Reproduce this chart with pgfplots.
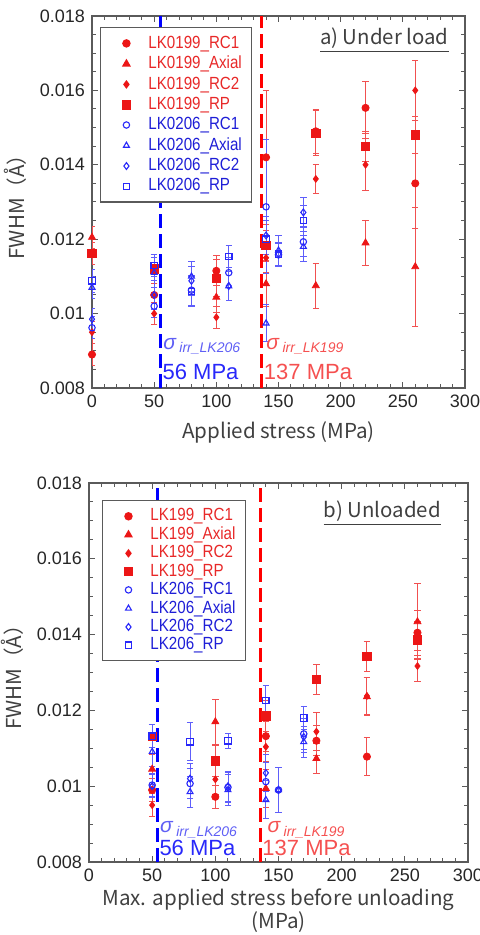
\documentclass[border=0pt]{standalone}
\usepackage{pgfplots}
\pgfplotsset{compat=1.18}
\usepackage{fontspec}
\setmainfont{Liberation Sans}
\newfontfamily\legfont{Liberation Sans}[FakeStretch=0.86]
\newfontfamily\jp{Noto Sans CJK JP}
\definecolor{lkred}{RGB}{236,22,22}
\definecolor{lkblue}{RGB}{40,40,250}
\definecolor{lkredt}{RGB}{232,40,40}
\definecolor{lkbluet}{RGB}{30,30,215}
\definecolor{sigblue}{RGB}{95,95,245}
\definecolor{sigred}{RGB}{245,80,80}
\definecolor{frame}{RGB}{90,90,90}
\pgfplotsset{
  fwhm/.style={
    scale only axis,
    xmin=0, xmax=300, ymin=0.008, ymax=0.018,
    xtick={0,50,...,300}, minor x tick num=4,
    ytick={0.008,0.010,0.012,0.014,0.016,0.018},
    yticklabels={0.008,0.01,0.012,0.014,0.016,0.018},
    minor y tick num=3,
    tick align=inside, major tick length=3pt, minor tick length=1.8pt,
    axis line style={frame, line width=0.6pt},
    every tick/.style={frame, line width=0.5pt},
    tick label style={font=\fontsize{9}{10}\selectfont, text=black!85},
    /pgf/number format/assume math mode=true,
    scaled y ticks=false,
    label style={font=\jp\fontsize{10.3}{12}\selectfont, text=black!75},
    ylabel={FWHM（Å）},
    legend cell align=left,
    legend style={draw=frame, line width=0.6pt, font=\legfont\fontsize{8.8}{10.2}\selectfont,
      inner xsep=3pt, inner ysep=2pt},
  },
  lim/.style={legend image code/.code={\path[draw=none,fill=none] (0pt,-1pt) (19pt,1pt);\draw[##1] plot[only marks] coordinates {(10pt,0pt)};}},
  r1/.style={only marks, lim, mark=*, mark size=1.8pt, color=lkred,
    error bars/y dir=both, error bars/y explicit,
    error bars/error bar style={lkred!75, line width=0.45pt},
    error bars/error mark options={rotate=90, mark size=1.6pt, lkred!75, line width=0.45pt}},
  r2/.style={r1, mark=triangle*, mark size=2pt},
  r3/.style={r1, mark=diamond*, mark size=1.7pt},
  r4/.style={r1, mark=square*, mark size=2.1pt},
  b1/.style={only marks, lim, mark=o, mark size=1.6pt, color=lkblue, mark options={draw=lkblue, line width=0.55pt},
    error bars/y dir=both, error bars/y explicit,
    error bars/error bar style={lkblue!75, line width=0.45pt},
    error bars/error mark options={rotate=90, mark size=1.6pt, lkblue!75, line width=0.45pt}},
  b2/.style={b1, mark=triangle, mark size=1.7pt},
  b3/.style={b1, mark=diamond, mark size=1.7pt},
  b4/.style={b1, mark=square, mark size=1.6pt, mark options={draw=lkblue, fill=none, line width=0.6pt}},
  vline/.style={line width=1.5pt, dash pattern=on 7pt off 3pt, forget plot},
}
\begin{document}
\begin{tikzpicture}
\path[use as bounding box] (0,0) rectangle (240pt,467.5pt);
% ---------------- a) Under load ----------------
\begin{axis}[fwhm, at={(46pt,273.5pt)}, anchor=south west,
  width=186.5pt, height=186pt,
  xlabel={Applied stress (MPa)},
  legend style={at={(0.021,0.97)}, anchor=north west, row sep=-1.5pt}]
\addplot[r1] table[row sep=\\, y error=e]{x y e\\ 0 0.0089 0.0003\\ 50 0.0105 0.0005\\ 100 0.01115 0.0004\\ 140 0.0142 0.0018\\ 180 0.0149 0.0006\\ 220 0.01553 0.0007\\ 260 0.0135 0.0012\\};
\addlegendentry{\textcolor{lkredt}{LK0199\_RC1}}
\addplot[r2] table[row sep=\\, y error=e]{x y e\\ 0 0.01205 0.0003\\ 50 0.0112 0.0004\\ 100 0.01044 0.0004\\ 140 0.0108 0.0006\\ 180 0.01075 0.0006\\ 220 0.0119 0.0006\\ 260 0.01126 0.0016\\};
\addlegendentry{\textcolor{lkredt}{LK0199\_Axial}}
\addplot[r3] table[row sep=\\, y error=e]{x y e\\ 0 0.0095 0.0003\\ 50 0.0100 0.0003\\ 100 0.0099 0.0003\\ 140 0.0115 0.0004\\ 180 0.01362 0.0004\\ 220 0.0140 0.0007\\ 260 0.0160 0.0008\\};
\addlegendentry{\textcolor{lkredt}{LK0199\_RC2}}
\addplot[r4] table[row sep=\\, y error=e]{x y e\\ 0 0.01162 0.0003\\ 50 0.0112 0.0004\\ 100 0.01095 0.0005\\ 140 0.01184 0.0004\\ 180 0.01485 0.0006\\ 220 0.0145 0.0004\\ 260 0.0148 0.0005\\};
\addlegendentry{\textcolor{lkredt}{LK0199\_RP}}
\addplot[b1] table[row sep=\\, y error=e]{x y e\\ 0 0.00962 0.0003\\ 50 0.0102 0.0003\\ 80 0.01063 0.0004\\ 110 0.0111 0.0004\\ 140 0.01287 0.0018\\ 150 0.01158 0.0003\\ 170 0.01193 0.0004\\};
\addlegendentry{\textcolor{lkbluet}{LK0206\_RC1}}
\addplot[b2] table[row sep=\\, y error=e]{x y e\\ 0 0.0107 0.0003\\ 50 0.0111 0.0004\\ 80 0.0110 0.0004\\ 110 0.01074 0.0004\\ 140 0.00974 0.0005\\ 150 0.0117 0.0004\\ 170 0.0118 0.0004\\};
\addlegendentry{\textcolor{lkbluet}{LK0206\_Axial}}
\addplot[b3] table[row sep=\\, y error=e]{x y e\\ 0 0.00985 0.0003\\ 50 0.0105 0.0004\\ 80 0.01088 0.0004\\ 110 0.01074 0.0004\\ 140 0.0121 0.0005\\ 150 0.0116 0.0003\\ 170 0.01272 0.0004\\};
\addlegendentry{\textcolor{lkbluet}{LK0206\_RC2}}
\addplot[b4] table[row sep=\\, y error=e]{x y e\\ 0 0.01088 0.0003\\ 50 0.01129 0.0003\\ 80 0.01059 0.0004\\ 110 0.01153 0.0003\\ 140 0.0120 0.0005\\ 150 0.0116 0.0003\\ 170 0.0125 0.0004\\};
\addlegendentry{\textcolor{lkbluet}{LK0206\_RP}}
\addplot[vline, color=blue] coordinates {(55,0.008) (55,0.018)};
\addplot[vline, color=red] coordinates {(136.5,0.008) (136.5,0.018)};
\node[anchor=west, inner sep=0pt, text=sigblue, font=\fontsize{10.5}{11}\selectfont\itshape] at (axis cs:57,0.00912) {σ\,\textsubscript{\fontsize{7}{8}\selectfont irr\_LK206}};
\node[anchor=west, inner sep=0pt, text=lkblue, font=\fontsize{11}{12}\selectfont] at (axis cs:56.5,0.00843) {56 MPa};
\node[anchor=west, inner sep=0pt, text=sigred, font=\fontsize{10.5}{11}\selectfont\itshape] at (axis cs:140,0.00912) {σ\,\textsubscript{\fontsize{7}{8}\selectfont irr\_LK199}};
\node[anchor=west, inner sep=0pt, text=sigred, font=\fontsize{11}{12}\selectfont] at (axis cs:138,0.00843) {137 MPa};
\node[anchor=east, inner sep=0pt, text=black!75, font=\jp\fontsize{10.2}{11}\selectfont] at (rel axis cs:0.957,0.935) {\underline{a) Under load}};
\end{axis}
% ---------------- b) Unloaded ----------------
\begin{axis}[fwhm, at={(44.5pt,36.5pt)}, anchor=south west,
  width=189.5pt, height=189.5pt,
  xlabel={Max. applied stress before unloading\\(MPa)},
  xlabel style={align=center, yshift=3.5pt, font=\jp\fontsize{10.3}{11.5}\selectfont},
  legend style={at={(0.034,0.955)}, anchor=north west, row sep=-2.5pt}]
\addplot[r1] table[row sep=\\, y error=e]{x y e\\ 50 0.0099 0.0003\\ 100 0.00972 0.0003\\ 140 0.01132 0.0004\\ 180 0.0112 0.0004\\ 220 0.01078 0.0005\\ 260 0.01405 0.0006\\};
\addlegendentry{\textcolor{lkredt}{LK199\_RC1}}
\addplot[r2] table[row sep=\\, y error=e]{x y e\\ 50 0.01045 0.0004\\ 100 0.0117 0.0006\\ 140 0.00994 0.0005\\ 180 0.01073 0.0004\\ 220 0.01236 0.0005\\ 260 0.01434 0.001\\};
\addlegendentry{\textcolor{lkredt}{LK199\_Axial}}
\addplot[r3] table[row sep=\\, y error=e]{x y e\\ 50 0.0095 0.0003\\ 100 0.01018 0.0004\\ 140 0.01104 0.0004\\ 180 0.01144 0.0005\\ 220 0.01238 0.0005\\ 260 0.01317 0.0004\\};
\addlegendentry{\textcolor{lkredt}{LK199\_RC2}}
\addplot[r4] table[row sep=\\, y error=e]{x y e\\ 50 0.01132 0.0003\\ 100 0.01067 0.0004\\ 140 0.01185 0.0004\\ 180 0.01282 0.0004\\ 220 0.01342 0.0004\\ 260 0.01386 0.0005\\};
\addlegendentry{\textcolor{lkredt}{LK199\_RP}}
\addplot[b1] table[row sep=\\, y error=e]{x y e\\ 50 0.01003 0.0003\\ 80 0.01007 0.0004\\ 110 0.00997 0.0004\\ 140 0.01012 0.0005\\ 150 0.0099 0.0006\\ 170 0.01138 0.0004\\};
\addlegendentry{\textcolor{lkbluet}{LK206\_RC1}}
\addplot[b2] table[row sep=\\, y error=e]{x y e\\ 50 0.01091 0.0004\\ 80 0.00985 0.0004\\ 110 0.0099 0.0004\\ 140 0.00964 0.0005\\ 150 0.0099 0.0006\\ 170 0.01117 0.0004\\};
\addlegendentry{\textcolor{lkbluet}{LK206\_Axial}}
\addplot[b3] table[row sep=\\, y error=e]{x y e\\ 50 0.0100 0.0003\\ 80 0.0102 0.0004\\ 110 0.0100 0.0004\\ 140 0.01035 0.0005\\ 150 0.0099 0.0006\\ 170 0.0113 0.0004\\};
\addlegendentry{\textcolor{lkbluet}{LK206\_RC2}}
\addplot[b4] table[row sep=\\, y error=e]{x y e\\ 50 0.01132 0.0003\\ 80 0.01117 0.0005\\ 110 0.0112 0.0002\\ 140 0.01226 0.0004\\ 170 0.0118 0.0003\\};
\addlegendentry{\textcolor{lkbluet}{LK206\_RP}}
\addplot[vline, color=blue] coordinates {(54,0.008) (54,0.018)};
\addplot[vline, color=red] coordinates {(135.5,0.008) (135.5,0.018)};
\node[anchor=west, inner sep=0pt, text=sigblue, font=\fontsize{10.5}{11}\selectfont\itshape] at (axis cs:56,0.00885) {σ\,\textsubscript{\fontsize{7}{8}\selectfont irr\_LK206}};
\node[anchor=west, inner sep=0pt, text=lkblue, font=\fontsize{11}{12}\selectfont] at (axis cs:55.5,0.00837) {56 MPa};
\node[anchor=west, inner sep=0pt, text=sigred, font=\fontsize{10.5}{11}\selectfont\itshape] at (axis cs:141,0.00885) {σ\,\textsubscript{\fontsize{7}{8}\selectfont irr\_LK199}};
\node[anchor=west, inner sep=0pt, text=sigred, font=\fontsize{11}{12}\selectfont] at (axis cs:137,0.00837) {137 MPa};
\node[anchor=east, inner sep=0pt, text=black!75, font=\jp\fontsize{10.2}{11}\selectfont] at (rel axis cs:0.929,0.921) {\underline{b) Unloaded}};
\end{axis}
\end{tikzpicture}
\end{document}
